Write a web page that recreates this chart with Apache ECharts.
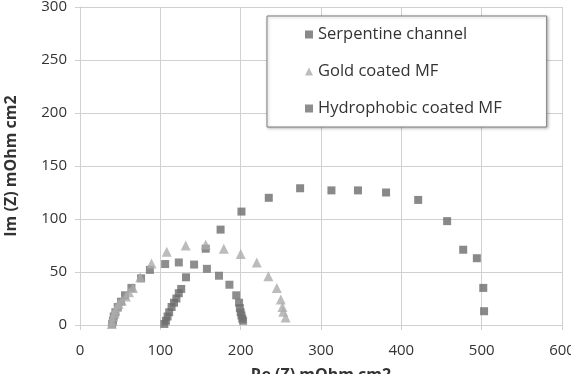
<!DOCTYPE html>
<html lang="en">
<head>
    <meta charset="UTF-8">
    <title>Nyquist</title>
    <script src="https://cdn.jsdelivr.net/npm/echarts@6/dist/echarts.min.js"></script>
</head>
<body style="margin:0">
    <div id="main" style="width: 571px;height:374px;"></div>
    <script type="text/javascript">
        // Re (Z) / Im (Z) pairs for each series
        var serpentineRe = [105, 107, 109, 111, 114, 117, 120, 123, 126, 132, 156.5, 175, 201, 235, 274, 313, 346, 381, 421, 457, 477, 494, 502, 503];
        var serpentineIm = [1, 4, 8, 12, 17, 21, 25, 30, 34, 45, 72, 90, 107, 120, 129, 127, 127, 125, 118, 98, 71, 63, 35, 13];

        var goldRe = [39.5, 40, 41, 43, 44, 46, 48, 52, 57, 61, 66, 75, 89, 108, 131.6, 156.5, 179, 200, 220, 234.5, 245, 250, 252, 253, 256];
        var goldIm = [1, 4, 8, 11, 14, 17, 20, 23, 27, 31, 35, 45, 58, 69, 75, 76, 72, 67, 59, 46, 35, 24, 17, 12.5, 7];

        var hydroRe = [40, 41, 42, 44, 47, 51, 56, 64, 76, 87, 106, 123, 142, 158, 173, 186, 194.5, 198, 199, 200, 201, 202, 203];
        var hydroIm = [1, 4, 8, 12, 17, 22, 28, 35, 44, 52, 57.5, 59, 57, 53, 46.5, 38, 28, 21, 16, 12, 9, 6, 4];

        var xTicks = [0, 100, 200, 300, 400, 500, 600];
        var yTicks = [0, 50, 100, 150, 200, 250, 300];

        function pairs(xs, ys) {
            return xs.map(function (x, i) { return [x, ys[i]]; });
        }

        var myChart = echarts.init(document.getElementById('main'));
        var font = '"Open Sans", "Liberation Sans", sans-serif';

        var option = {
            animation: false,
            backgroundColor: '#fff',
            grid: { left: 80, right: 9, top: 7, bottom: 49, containLabel: false, outerBoundsMode: 'none' },
            legend: {
                orient: 'vertical',
                left: 267,
                top: 16,
                padding: [10, 45, 10, 38],
                itemGap: 20,
                itemWidth: 8,
                itemHeight: 8,
                backgroundColor: '#fff',
                borderColor: '#7f7f7f',
                borderWidth: 1,
                shadowColor: 'rgba(0,0,0,0.25)',
                shadowBlur: 3,
                shadowOffsetX: 1,
                shadowOffsetY: 1,
                textStyle: { fontFamily: font, fontSize: 16.5, color: '#333' },
                data: [
                    { name: 'Serpentine channel', icon: 'rect' },
                    { name: 'Gold coated MF', icon: 'triangle' },
                    { name: 'Hydrophobic coated MF', icon: 'rect' }
                ]
            },
            xAxis: {
                type: 'value',
                min: xTicks[0],
                max: xTicks[xTicks.length - 1],
                interval: 100,
                name: 'Re (Z) mOhm cm2',
                nameLocation: 'middle',
                nameGap: 42,
                nameTextStyle: { fontFamily: font, fontSize: 16, fontWeight: 'bold', color: '#333' },
                axisLine: { lineStyle: { color: '#d0d0d0' } },
                axisTick: { show: true, length: 5, lineStyle: { color: '#d0d0d0' } },
                splitLine: { show: true, lineStyle: { color: '#d0d0d0' } },
                axisLabel: { fontFamily: font, fontSize: 15, color: '#333', margin: 18 }
            },
            yAxis: {
                type: 'value',
                min: yTicks[0],
                max: yTicks[yTicks.length - 1],
                interval: 50,
                name: 'Im (Z) mOhm cm2',
                nameLocation: 'middle',
                nameGap: 61,
                nameTextStyle: { fontFamily: font, fontSize: 16, fontWeight: 'bold', color: '#333' },
                axisLine: { show: true, lineStyle: { color: '#d0d0d0' } },
                axisTick: { show: true, length: 5, lineStyle: { color: '#d0d0d0' } },
                splitLine: { show: true, lineStyle: { color: '#d0d0d0' } },
                axisLabel: { fontFamily: font, fontSize: 15, color: '#333', margin: 13 }
            },
            series: [
                {
                    name: 'Serpentine channel',
                    type: 'scatter',
                    symbol: 'rect',
                    symbolSize: 8,
                    itemStyle: { color: '#6b6b6b' },
                    data: pairs(serpentineRe, serpentineIm)
                },
                {
                    name: 'Gold coated MF',
                    type: 'scatter',
                    symbol: 'triangle',
                    symbolSize: 10,
                    z: 3,
                    itemStyle: { color: '#ababab' },
                    data: pairs(goldRe, goldIm)
                },
                {
                    name: 'Hydrophobic coated MF',
                    type: 'scatter',
                    symbol: 'rect',
                    symbolSize: 8,
                    itemStyle: { color: '#707070' },
                    data: pairs(hydroRe, hydroIm)
                }
            ]
        };

        myChart.setOption(option);
    </script>
</body>
</html>
